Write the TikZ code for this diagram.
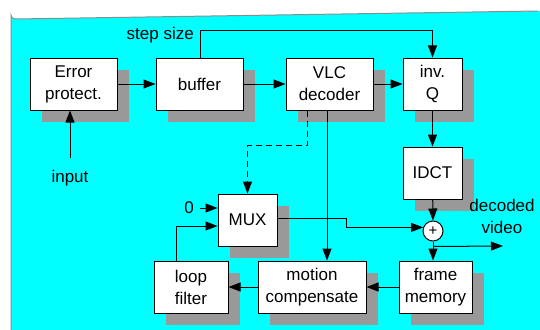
\documentclass[tikz,border=0pt]{standalone}
\usepackage{fontspec}
\setmainfont{Liberation Sans}
\usetikzlibrary{arrows.meta,shadows,calc}
\definecolor{bgcyan}{RGB}{0,255,255}
\definecolor{shadegray}{RGB}{153,153,153}
\definecolor{edgegray}{RGB}{140,140,140}
\tikzset{
  blk/.style={draw=black, line width=1pt, fill=white, align=center,
    inner sep=0pt, minimum height=52pt,
    font=\fontsize{17}{22}\selectfont,
    drop shadow={shadow xshift=12pt, shadow yshift=-12pt,
      fill=shadegray, opacity=1}},
  lbl/.style={inner sep=0pt, align=center, font=\fontsize{17}{22}\selectfont},
  arr/.style={line width=1pt, -{Triangle[length=12pt,width=9pt]}},
  ln/.style={line width=1pt},
}
\begin{document}
\begin{tikzpicture}[x=1pt, y=-1pt]
\useasboundingbox (0,0) rectangle (540,329);
% panel
\fill[bgcyan] (11,340) -- (11,15) arc[start angle=180, end angle=90, radius=4] -- (545,11) -- (545,340) -- cycle;
\draw[edgegray, line width=1pt] (11,340) -- (11,15) arc[start angle=180, end angle=90, radius=4] -- (538,11);

% blocks
\node[blk, minimum width=87pt] (errp) at (73.5,84) {Error\\protect.};
\node[blk, minimum width=87pt] (buf) at (199.5,84) {buffer};
\node[blk, minimum width=87pt] (vlc) at (329.5,84) {VLC\\decoder};
\node[blk, minimum width=59pt] (invq) at (432.5,84) {inv.\\Q};
\node[blk, minimum width=59pt] (idct) at (432.5,173) {IDCT};
\node[blk, minimum width=59pt] (mux) at (247.5,220) {MUX};
\node[blk, minimum width=74pt] (loopf) at (191,287) {loop\\filter};
\node[blk, minimum width=108pt] (motc) at (312,287) {motion\\compensate};
\node[blk, minimum width=73pt] (fmem) at (435.5,287) {frame\\memory};
\node[draw=black, line width=1pt, fill=white, circle, minimum size=20pt,
  inner sep=0pt, font=\fontsize{15}{15}\selectfont] (adder) at (433,231) {+};

% labels
\node[lbl] (inlbl) at (70,178) {input};
\node[lbl, anchor=east] (steplbl) at (194,35) {step size};
\node[lbl] (zero) at (189,208) {0};
\node[lbl] (declbl) at (502,216) {decoded\\video};

\coordinate (inp) at (70,158);
\coordinate (outv) at (503,246);

% connectors
\draw[arr] (inp) -- (inp |- errp.south);
\draw[arr] (errp) -- (buf);
\draw[arr] (buf) -- (vlc);
\draw[arr] (vlc) -- (invq);
\draw[arr] ([xshift=0.5pt]buf.north) |- ($(invq.north)+(0,-27)$) -- (invq.north);
\draw[arr] (invq) -- (idct);
\draw[arr] (idct) -- (adder);
\draw[arr] (adder) -- (adder |- fmem.north);
\draw[arr] ([yshift=-5pt]adder.south) -- (outv);
\draw[arr] (fmem) -- (motc);
\draw[arr] (motc) -- (loopf);
\draw[arr] ([xshift=-2.5pt]vlc.south) -- ([xshift=-2.5pt]vlc.south |- motc.north);
\draw[arr, dash pattern=on 6pt off 4pt] ([xshift=-22.5pt]vlc.south) -- ++(0,35) -| (mux.north);
\draw[arr] ([xshift=6pt]zero.east) -- ([yshift=12pt]mux.west);
\draw[arr] ([xshift=-15pt]loopf.north) |- ([yshift=-6pt]mux.west);
\draw[arr] ([yshift=2pt]mux.east) -- ++(69,0) |- (adder.160);
\end{tikzpicture}
\end{document}
